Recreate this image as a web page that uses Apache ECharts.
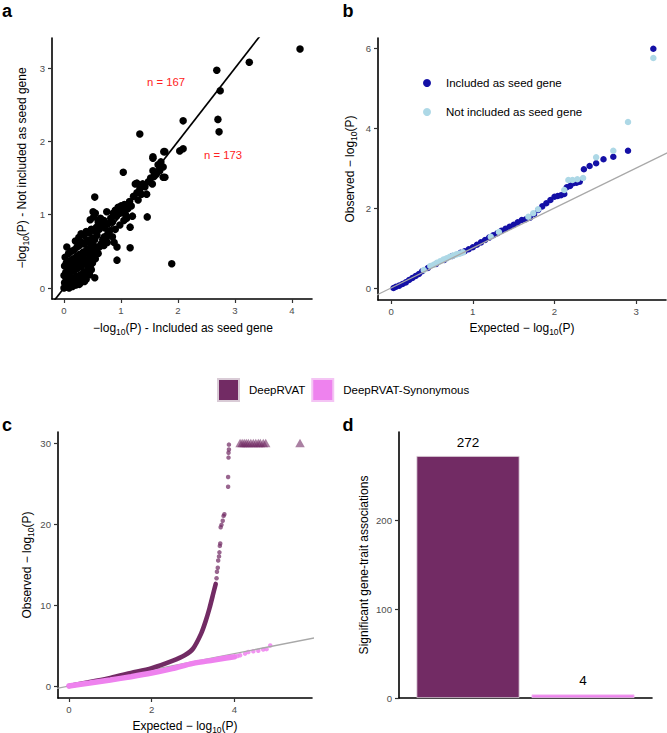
<!DOCTYPE html>
<html><head><meta charset="utf-8">
<script src="https://cdn.jsdelivr.net/npm/echarts@6/dist/echarts.min.js"></script>
<style>html,body{margin:0;padding:0;background:#fff}#c{width:667px;height:733px}</style>
</head><body><div id="c"></div>
<script>
// ---------- Panel a: -log10(P) included vs not included as seed gene ----------
const aPoints = [
[0.00,0.00],[0.03,0.01],[0.06,0.02],[0.09,0.00],[0.12,0.03],[0.15,0.02],[0.18,0.05],[0.21,0.04],[0.24,0.06],[0.27,0.05],[0.30,0.08],[0.33,0.10],[0.36,0.09],[0.39,0.12],
[0.01,0.07],[0.04,0.11],[0.08,0.09],[0.11,0.13],[0.14,0.10],[0.17,0.14],[0.20,0.12],[0.23,0.16],[0.26,0.14],[0.29,0.18],[0.32,0.17],[0.35,0.21],[0.38,0.19],[0.41,0.24],[0.44,0.22],
[0.00,0.17],[0.03,0.21],[0.06,0.18],[0.09,0.24],[0.12,0.22],[0.15,0.27],[0.18,0.24],[0.21,0.29],[0.24,0.27],[0.27,0.32],[0.30,0.29],[0.33,0.35],[0.36,0.33],[0.39,0.38],[0.42,0.36],[0.45,0.41],[0.48,0.38],
[0.01,0.30],[0.04,0.34],[0.07,0.31],[0.10,0.37],[0.13,0.35],[0.16,0.40],[0.19,0.38],[0.22,0.43],[0.25,0.41],[0.28,0.46],[0.31,0.44],[0.34,0.49],[0.37,0.47],[0.40,0.52],[0.43,0.50],[0.46,0.55],[0.49,0.53],[0.52,0.58],
[0.02,0.42],[0.05,0.56],[0.08,0.47],[0.13,0.50],[0.18,0.52],[0.23,0.56],[0.27,0.58],[0.32,0.62],[0.36,0.60],[0.41,0.65],[0.45,0.63],[0.50,0.68],[0.54,0.66],[0.58,0.72],
[0.20,0.64],[0.26,0.69],[0.30,0.74],[0.35,0.72],[0.39,0.77],[0.44,0.75],[0.48,0.80],[0.53,0.78],[0.57,0.83],[0.62,0.80],[0.66,0.86],
[0.42,0.28],[0.46,0.30],[0.50,0.34],[0.48,0.25],[0.52,0.44],[0.55,0.40],[0.57,0.50],[0.60,0.47],[0.62,0.56],[0.65,0.60],[0.68,0.66],[0.71,0.70],[0.74,0.68],[0.77,0.74],[0.80,0.78],
[0.54,0.14],[0.45,0.18],
[0.46,0.93],[0.51,1.04],[0.54,1.24],[0.52,0.97],[0.55,1.02],[0.60,0.90],[0.64,0.95],[0.70,0.92],[0.75,1.04],[0.72,0.82],[0.78,0.88],[0.82,0.95],[0.85,0.90],[0.86,1.02],[0.90,1.06],[0.92,0.98],[0.95,1.10],[0.98,1.02],[1.00,1.12],[1.03,1.05],[1.06,1.14],[1.08,1.00],[1.12,1.08],[1.15,1.18],[1.18,1.12],
[0.93,0.38],[0.93,0.56],[0.85,0.70],[0.90,0.80],[0.98,0.86],[1.05,0.92],[1.16,0.55],[1.16,0.83],[1.10,0.95],[1.20,0.98],[0.88,0.62],[0.70,0.58],[0.76,0.62],
[1.22,1.25],[1.25,1.42],[1.28,1.30],[1.30,1.20],[1.33,1.35],[1.36,1.28],[1.38,1.42],[1.42,1.38],[1.45,1.28],[1.46,0.97],[1.48,1.45],[1.52,1.50],[1.55,1.42],[1.56,1.60],[1.58,1.52],[1.62,1.55],[1.65,1.68],[1.68,1.60],[1.70,1.72],[1.74,1.51],[1.74,1.65],[1.77,1.51],
[1.04,1.58],[1.28,1.43],[1.56,1.77],[1.33,2.10],[1.56,1.79],[1.75,1.86],[1.77,1.86],[2.03,1.87],[2.09,1.90],[2.09,2.28],[1.89,0.33],
[2.68,2.97],[2.74,2.69],[2.70,2.30],[2.72,2.13],[3.25,3.08],[4.14,3.26]
];
const aTicksX = [0,1,2,3,4];
const aTicksY = [0,1,2,3];
const aAnnot = ['n = 167','n = 173'];

// ---------- Panel b: QQ plot, included / not included ----------
const bIncluded = [
[0.03,0.00],[0.06,0.03],[0.10,0.06],[0.14,0.10],[0.18,0.14],[0.22,0.20],[0.26,0.25],[0.30,0.30],[0.34,0.35],[0.38,0.42],[0.45,0.50],[0.55,0.60],[0.65,0.70],[0.75,0.80],[0.85,0.88],[0.90,0.92],[0.95,0.97],[1.00,1.02],[1.05,1.08],[1.10,1.14],[1.15,1.20],[1.20,1.26],[1.25,1.32],[1.30,1.37],[1.35,1.43],[1.40,1.48],[1.45,1.53],[1.50,1.58],[1.55,1.64],[1.60,1.70],[1.65,1.72],[1.70,1.76],[1.75,1.85],[1.80,1.95],[1.85,2.04],[1.90,2.12],[1.95,2.20],[2.00,2.28],[2.04,2.30],[2.08,2.32],[2.12,2.35],[2.15,2.52],[2.19,2.55],[2.23,2.62],[2.27,2.63],[2.31,2.66],[2.36,2.97],[2.43,3.05],[2.51,3.12],[2.60,3.22],[2.72,3.28],[2.90,3.43],[3.21,5.98]
];
const bNotIncluded = [
[0.40,0.45],[0.48,0.55],[0.52,0.58],[0.56,0.63],[0.60,0.67],[0.64,0.71],[0.68,0.74],[0.72,0.78],[0.76,0.81],[0.80,0.84],[0.84,0.86],[0.88,0.89],[1.22,1.28],[1.32,1.40],[1.68,1.78],[1.74,1.87],[1.80,1.97],[2.12,2.45],[2.17,2.70],[2.22,2.70],[2.28,2.72],[2.35,2.75],[2.51,3.27],[2.72,3.43],[2.90,4.15],[3.21,5.75]
];
const bTicksX = [0,1,2,3];
const bTicksY = [0,2,4,6];
const bNames = ['Included as seed gene','Not included as seed gene'];

// ---------- Panel c: QQ plot DeepRVAT vs DeepRVAT-Synonymous ----------
const cDeepX = [0, 0.5, 1.0, 1.5, 2.0, 2.5, 2.8, 3.0, 3.2, 3.3, 3.4, 3.5, 3.55];
const cDeepY = [0, 0.5, 1.0, 1.6, 2.2, 3.1, 3.8, 4.6, 6.5, 7.9, 9.6, 11.6, 12.6];
const cDeepTail = [[3.57,13.3],[3.58,14.1],[3.60,14.6],[3.61,15.5],[3.63,16.0],[3.64,16.5],[3.65,17.3],[3.66,17.6],[3.67,19.6],[3.69,19.9],[3.72,20.4],[3.74,21.0],[3.76,21.2],[3.85,24.6],[3.85,25.8],[3.86,28.2],[3.86,28.8],[3.87,29.2],[3.87,29.8]];
const cDeepCapped = [[4.14,30],[4.19,30],[4.24,30],[4.29,30],[4.34,30],[4.40,30],[4.46,30],[4.52,30],[4.58,30],[4.63,30],[4.70,30],[4.76,30],[5.59,30]];
const cSynX = [0, 0.5, 1.0, 1.5, 2.0, 2.5, 3.0, 3.5, 3.8, 4.0];
const cSynY = [0, 0.37, 0.75, 1.15, 1.6, 2.15, 2.8, 3.2, 3.45, 3.6];
const cSynTail = [[4.08,3.7],[4.14,3.8],[4.26,4.0],[4.34,4.2],[4.46,4.3],[4.58,4.35],[4.70,4.5],[4.78,4.55],[4.87,5.0]];
const cTicksX = [0,2,4];
const cTicksY = [0,10,20,30];

// ---------- Panel d: significant gene-trait associations ----------
const dMethods = ['DeepRVAT','DeepRVAT-Synonymous'];
const dCounts = [272, 4];
const dTicksY = [0,100,200];

// ---------- styling ----------
const FONT = "'Liberation Sans', Arial, Helvetica, sans-serif";
const PURPLE = '#722B64';
const VIOLET = '#EE82EE';
const DBLUE = '#1410A6';
const LBLUE = '#ADD8E6';

function axis(gi, min, max, ticks, isX, showTicks) {
  return {
    type: 'value', gridIndex: gi, min: min, max: max,
    splitLine: {show: false},
    axisLine: {show: true, onZero: false, lineStyle: {color: '#000', width: 1.6}},
    axisTick: {show: showTicks !== false, length: 4, lineStyle: {color: '#333', width: 1.2}, customValues: ticks},
    axisLabel: {show: showTicks !== false, customValues: ticks, color: '#4D4D4D', fontSize: 9.6, fontFamily: FONT, margin: isX ? 6 : 7}
  };
}
function pairs(xs, ys) { return xs.map((x, i) => [x, ys[i]]); }

const rich = {
  t: {fontSize: 12, fontFamily: FONT, fill: '#000', lineHeight: 16},
  s: {fontSize: 8.5, fontFamily: FONT, fill: '#000', lineHeight: 9, verticalAlign: 'bottom'}
};
function title(x, y, text, rot) {
  return {type: 'text', x: x, y: y, rotation: rot ? Math.PI / 2 : 0,
    style: {text: text, rich: rich, fontSize: 12, fontFamily: FONT, fill: '#000', align: 'center', verticalAlign: 'middle'}};
}
function plain(x, y, text, opts) {
  return {type: 'text', x: x, y: y, rotation: opts.rot ? Math.PI / 2 : 0,
    style: Object.assign({text: text, fontFamily: FONT, fill: '#000', align: 'center', verticalAlign: 'middle'}, opts.style)};
}

const chart = echarts.init(document.getElementById('c'), null, {renderer: 'svg', width: 667, height: 733});
chart.setOption({
  animation: false,
  backgroundColor: '#fff',
  textStyle: {fontFamily: FONT},
  grid: [
    {left: 52, top: 38, width: 260, height: 261},
    {left: 378, top: 38, width: 288, height: 262},
    {left: 58, top: 432, width: 254, height: 266},
    {left: 399, top: 432, width: 253, height: 266}
  ],
  xAxis: [
    axis(0, -0.21, 4.35, aTicksX, true),
    axis(1, -0.16, 3.365, bTicksX, true),
    axis(2, -0.266, 5.88, cTicksX, true),
    axis(3, 0.4, 2.6, [], true, false)
  ],
  yAxis: [
    axis(0, -0.15, 3.41, aTicksY, false),
    axis(1, -0.3, 6.25, bTicksY, false),
    axis(2, -1.48, 31.36, cTicksY, false),
    axis(3, 0, 299, dTicksY, false)
  ],
  legend: [
    {left: 212, top: 373, itemWidth: 21, itemHeight: 22, itemGap: 6, icon: 'rect', selectedMode: false,
     textStyle: {fontSize: 11.5, color: '#000', fontFamily: FONT, padding: [0, 0, 0, 5]}, data: dMethods},
    {left: 418, top: 71, orient: 'vertical', itemWidth: 8, itemHeight: 8, itemGap: 15, icon: 'circle', selectedMode: false,
     textStyle: {fontSize: 11.5, color: '#000', fontFamily: FONT, padding: [0, 0, 0, 10], lineHeight: 14}, data: bNames}
  ],
  series: [
    // panel d bars
    {type: 'bar', name: dMethods[0], xAxisIndex: 3, yAxisIndex: 3, data: [[1, dCounts[0]]], barWidth: 103, barGap: '-100%',
     itemStyle: {color: PURPLE, borderColor: '#d9cbd6', borderWidth: 0.8},
     label: {show: true, position: 'top', distance: 7, fontSize: 13.5, color: '#000', fontFamily: FONT, formatter: p => p.value[1]}},
    {type: 'bar', name: dMethods[1], xAxisIndex: 3, yAxisIndex: 3, data: [[2, dCounts[1]]], barWidth: 103, barGap: '-100%',
     itemStyle: {color: VIOLET, borderColor: '#f4c4f4', borderWidth: 0.8},
     label: {show: true, position: 'top', distance: 7, fontSize: 13.5, color: '#000', fontFamily: FONT, formatter: p => p.value[1]}},
    // panel a
    {type: 'scatter', name: 'genes', xAxisIndex: 0, yAxisIndex: 0, data: aPoints, symbolSize: 7.5, itemStyle: {color: '#000', opacity: 1}},
    {type: 'line', name: 'identity a', xAxisIndex: 0, yAxisIndex: 0, data: [[-0.3, -0.3], [3.6, 3.6]], symbol: 'none', clip: true,
     lineStyle: {color: '#000', width: 1.7}},
    // panel b
    {type: 'line', name: 'identity b', xAxisIndex: 1, yAxisIndex: 1, data: [[-0.3, -0.3], [3.5, 3.5]], symbol: 'none', clip: true,
     lineStyle: {color: '#A8A8A8', width: 1.3}},
    {type: 'scatter', name: bNames[0], xAxisIndex: 1, yAxisIndex: 1, data: bIncluded, symbolSize: 6.5, itemStyle: {color: DBLUE, opacity: 1}},
    {type: 'scatter', name: bNames[1], xAxisIndex: 1, yAxisIndex: 1, data: bNotIncluded, symbolSize: 6.5, itemStyle: {color: LBLUE, opacity: 1}},
    // panel c
    {type: 'line', name: 'identity c', xAxisIndex: 2, yAxisIndex: 2, data: [[-0.3, -0.3], [6, 6]], symbol: 'none', clip: true,
     lineStyle: {color: '#A8A8A8', width: 1.3}},
    {type: 'line', name: dMethods[0], xAxisIndex: 2, yAxisIndex: 2, data: pairs(cDeepX, cDeepY), symbol: 'none', smooth: 0.3,
     itemStyle: {color: PURPLE}, lineStyle: {color: PURPLE, width: 4.6, cap: 'round'}},
    {type: 'line', name: dMethods[1], xAxisIndex: 2, yAxisIndex: 2, data: pairs(cSynX, cSynY), symbol: 'none', smooth: 0.3,
     itemStyle: {color: VIOLET}, lineStyle: {color: VIOLET, width: 5.5, cap: 'round'}},
    {type: 'scatter', name: dMethods[0], xAxisIndex: 2, yAxisIndex: 2, data: cDeepTail, symbolSize: 4.5,
     itemStyle: {color: PURPLE, opacity: 0.72}},
    {type: 'scatter', name: dMethods[1], xAxisIndex: 2, yAxisIndex: 2, data: cSynTail, symbolSize: 4.5,
     itemStyle: {color: VIOLET, opacity: 0.85}},
    {type: 'scatter', name: dMethods[0], xAxisIndex: 2, yAxisIndex: 2, data: cDeepCapped, symbol: 'triangle', symbolSize: [9.5, 8.5],
     itemStyle: {color: PURPLE, opacity: 0.6}}
  ],
  graphic: [
    plain(7, 11, 'a', {style: {fontSize: 18, fontWeight: 'bold'}}),
    plain(348, 11, 'b', {style: {fontSize: 18, fontWeight: 'bold'}}),
    plain(7, 425, 'c', {style: {fontSize: 18, fontWeight: 'bold'}}),
    plain(348, 425, 'd', {style: {fontSize: 18, fontWeight: 'bold'}}),
    plain(166, 82, aAnnot[0], {style: {fontSize: 11.3, fill: '#F22'}}),
    plain(223, 155, aAnnot[1], {style: {fontSize: 11.3, fill: '#F22'}}),
    title(183, 328, '{t|\u2212log}{s|10}{t|(P) - Included as seed gene}'),
    title(22, 168, '{t|\u2212log}{s|10}{t|(P) - Not included as seed gene}', true),
    title(522, 328, '{t|Expected \u2212 log}{s|10}{t|(P)}'),
    title(350, 169, '{t|Observed \u2212 log}{s|10}{t|(P)}', true),
    title(185, 726, '{t|Expected \u2212 log}{s|10}{t|(P)}'),
    title(27, 565, '{t|Observed \u2212 log}{s|10}{t|(P)}', true),
    plain(364, 565, 'Significant gene-trait associations', {rot: true, style: {fontSize: 12}})
  ]
});
</script></body></html>
